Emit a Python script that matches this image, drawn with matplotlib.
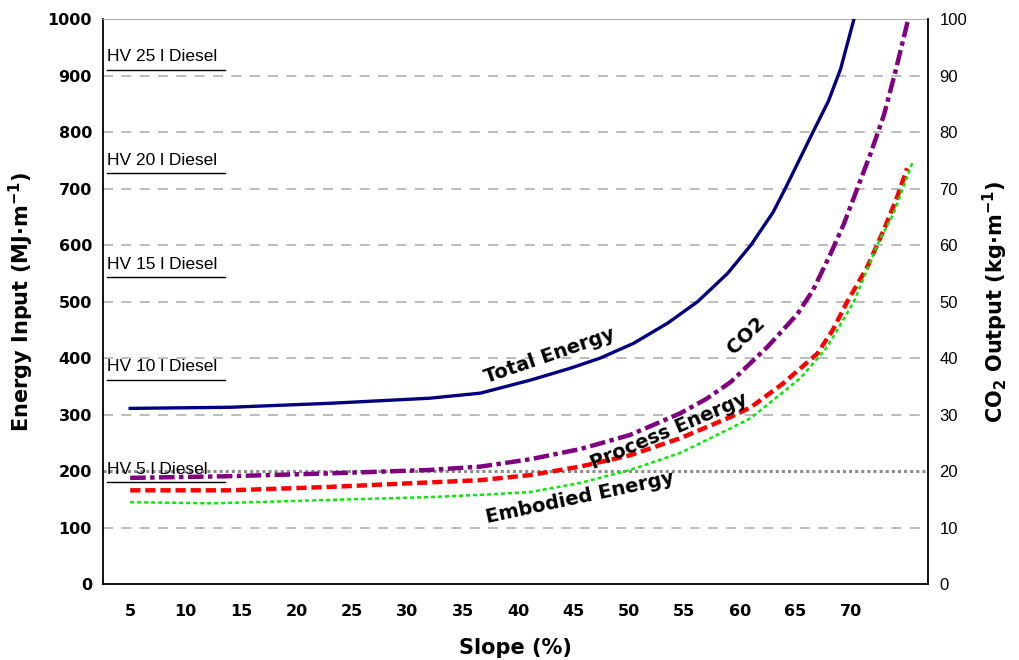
import matplotlib.pyplot as plt
import matplotlib.transforms as mtransforms

# slope (%) and energy / CO2 values
total_x = [5, 14, 23, 32, 36.6, 41.1, 44.7, 47.4, 50.4, 53.5, 56.2, 58.9, 61, 63, 64.1, 65.5, 66.6, 68, 69.1, 70.3]
total_y = [311, 313, 320, 329, 338, 361, 382, 400, 426, 462, 500, 550, 600, 658, 700, 756, 800, 855, 912, 1000]

co2_x = [5, 14, 23, 32, 36.6, 41.1, 45.6, 50.1, 54.6, 57, 59.2, 62.5, 65.2, 66.6, 68.2, 69.4, 70.6, 71.8, 73, 74, 75.2]
co2_y = [188, 191, 196, 202, 208, 221, 239, 264, 302, 328, 358, 420, 478, 520, 585, 638, 700, 762, 830, 904, 1000]

process_x = [5, 14, 23, 32, 36.6, 41.1, 45.6, 50.1, 54.6, 59.2, 61, 63.9, 67, 68.4, 69.7, 71.5, 73, 74.2, 75.1]
process_y = [166, 166, 172, 180, 184, 193, 208, 228, 258, 296, 313, 355, 408, 450, 500, 561, 627, 685, 736]

embodied_x = [5, 12.5, 23, 32, 36.6, 41.1, 45.6, 50.1, 54.6, 59.2, 61, 65.5, 67.9, 70.3, 72.4, 73.9, 75.6]
embodied_y = [145, 143, 149, 154, 158, 163, 179, 202, 232, 276, 294, 365, 420, 500, 600, 657, 747]

hv_labels = ["HV 25 l Diesel", "HV 20 l Diesel", "HV 15 l Diesel", "HV 10 l Diesel", "HV 5 l Diesel"]
hv_levels = [910, 727, 543, 361, 180]

x_ticks = [5, 10, 15, 20, 25, 30, 35, 40, 45, 50, 55, 60, 65, 70]

fig = plt.figure(figsize=(10.2, 6.6), dpi=100)
ax = fig.add_axes([0.101, 0.115, 0.809, 0.856])

# grid lines
for v in range(100, 1001, 100):
    if v == 200:
        continue
    ax.axhline(v, color='#b0b0b0', lw=1.2, ls=(0, (6, 5)), zorder=1)
ax.axhline(200, color='#8c8c8c', lw=2.2, ls=(0, (1, 1)), zorder=1)

ax.plot(total_x, total_y, color='#000080', lw=2.4, zorder=5)
ax.plot(co2_x, co2_y, color='#800080', lw=3.2, ls=(0, (3.5, 1, 1, 1)), zorder=5)
ax.plot(process_x, process_y, color='#ff0000', lw=3.2, ls=(0, (2.3, 1.1)), zorder=5)
ax.plot(embodied_x, embodied_y, color='#00ee00', lw=1.8, ls=(0, (1.6, 1.2)), zorder=6)

# curve labels
lab = dict(fontsize=14, fontweight='bold', ha='center', va='center', family='DejaVu Sans', zorder=7)
ax.text(42.8, 405, "Total Energy", rotation=19, **lab)
ax.text(60.6, 440, "CO2", rotation=44, **lab)
ax.text(53.6, 271, "Process Energy", rotation=23, **lab)
ax.text(45.6, 153, "Embodied Energy", rotation=12, **lab)

# HV diesel markers
trans = mtransforms.blended_transform_factory(ax.transAxes, ax.transData)
for name, lvl in zip(hv_labels, hv_levels):
    ax.plot([0.005, 0.148], [lvl, lvl], color='black', lw=1, transform=trans, zorder=4)
    ax.text(0.005, lvl + 10, name, transform=trans, fontsize=12.5, family='Liberation Sans',
            ha='left', va='bottom', zorder=4)

ax.set_xlim(2.55, 77.0)
ax.set_ylim(0, 1000)
ax.set_xticks(x_ticks)
ax.set_yticks(range(0, 1001, 100))
ax.tick_params(length=0, pad=8)
for t in ax.get_xticklabels() + ax.get_yticklabels():
    t.set_fontweight('bold')
    t.set_fontsize(11.5)
ax.tick_params(axis='x', pad=14)

ax.spines['top'].set_color('#b0b0b0')
ax.spines['right'].set_visible(False)
ax.spines['left'].set_linewidth(1.3)
ax.spines['bottom'].set_linewidth(1.3)

ax.set_xlabel("Slope (%)", fontsize=15, fontweight='bold', labelpad=14)
ax.set_ylabel(r"Energy Input (MJ$\mathbf{\cdot}$m$^{\mathbf{-1}}$)", fontsize=15, fontweight='bold', labelpad=8)

ax2 = ax.twinx()
ax2.set_ylim(0, 100)
ax2.set_yticks(range(0, 101, 10))
ax2.tick_params(length=0, pad=8, labelsize=12)
for t in ax2.get_yticklabels():
    t.set_family('Liberation Sans')
ax2.spines['top'].set_visible(False)
ax2.spines['left'].set_visible(False)
ax2.spines['bottom'].set_visible(False)
ax2.spines['right'].set_linewidth(1.3)
ax2.set_ylabel(r"CO$_\mathbf{2}$ Output (kg$\mathbf{\cdot}$m$^{\mathbf{-1}}$)", fontsize=15, fontweight='bold', labelpad=10)

fig.savefig("out.png", dpi=100)
